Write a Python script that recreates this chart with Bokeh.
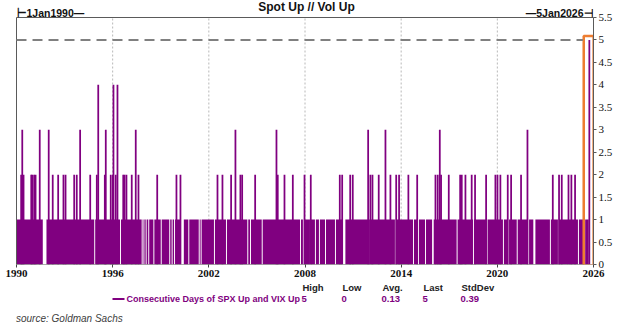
from bokeh.plotting import figure
from bokeh.layouts import column
from bokeh.models import Range1d, FixedTicker
from bokeh.embed import file_html
from bokeh.resources import INLINE
from bokeh.core.properties import value

# ---------------- data ----------------
x_start, x_end = 1990, 2026
y_start, y_end = 0, 5.5
x_ticks = [1990, 1996, 2002, 2008, 2014, 2020, 2026]
x_tick_labels = ["1990", "1996", "2002", "2008", "2014", "2020", "2026"]
y_ticks = [0, 0.5, 1, 1.5, 2, 2.5, 3, 3.5, 4, 4.5, 5, 5.5]
y_tick_labels = ["0", "0.5", "1", "1.5", "2", "2.5", "3", "3.5", "4", "4.5", "5", "5.5"]

# level-1 run ends here; days with value 0 inside the run are listed as gaps
base_end = 2025.70
gap_centers = [1991.755, 1994.88, 1996.49, 1997.84, 1997.95, 1998.09, 1998.25, 1998.57,
               1999.03, 1999.56, 1999.71, 1999.86, 1999.98, 2000.335, 2000.75, 2001.40,
               2001.52, 2002.35, 2003.10, 2004.43, 2004.60, 2005.33, 2007.72, 2007.90,
               2008.34, 2008.65, 2008.90, 2009.28, 2009.90, 2010.42, 2012.08, 2013.64,
               2014.77, 2015.08, 2015.52, 2015.98, 2017.49, 2018.51, 2019.36, 2020.38,
               2020.70, 2021.24, 2021.95, 2022.31, 2023.31, 2023.81, 2024.44, 2025.06,
               2025.45]
gap_widths = [0.23, 0.06, 0.06, 0.06, 0.06, 0.06, 0.06, 0.06,
              0.06, 0.06, 0.06, 0.06, 0.06, 0.21, 0.06, 0.06,
              0.06, 0.06, 0.06, 0.06, 0.06, 0.06, 0.06, 0.06,
              0.06, 0.06, 0.06, 0.06, 0.06, 0.20, 0.06, 0.06,
              0.06, 0.06, 0.06, 0.10, 0.06, 0.06, 0.06, 0.06,
              0.06, 0.06, 0.06, 0.13, 0.06, 0.06, 0.06, 0.06,
              0.06]

spike_dates = [1990.29, 1990.36, 1990.44, 1990.92, 1990.98, 1991.10, 1991.19, 1991.45,
               1992.01, 1992.26, 1992.60, 1992.93, 1993.06, 1993.60, 1993.76, 1993.97,
               1994.60, 1995.01, 1995.10, 1995.51, 1995.57, 1995.88, 1996.01, 1996.05,
               1996.19, 1996.30, 1996.66, 1996.74, 1996.86, 1997.19, 1997.44, 1997.61,
               1998.78, 1999.98, 2000.23,
               2002.54, 2002.85, 2003.39, 2003.66, 2003.97, 2004.08, 2004.89, 2006.22,
               2006.30, 2006.72, 2007.24, 2007.97, 2008.36, 2010.17, 2010.32, 2010.82,
               2010.98, 2011.94, 2012.08, 2012.21, 2012.60, 2013.02,
               2013.33, 2013.69, 2013.87, 2014.45, 2015.00, 2016.14, 2016.28, 2016.41,
               2016.49, 2016.97, 2017.68, 2017.78, 2018.01, 2018.40, 2018.61, 2019.30,
               2019.88, 2020.01, 2020.19, 2020.65, 2020.86, 2021.48, 2021.88, 2023.46,
               2023.85, 2024.02, 2024.44, 2024.62, 2024.85, 2025.74]
spike_values = [2, 3, 2, 2, 2, 2, 2, 3,
                3, 2, 2, 2, 2, 2, 2, 3,
                2, 2, 4, 2, 3, 2, 2, 4,
                2, 4, 2, 2, 2, 2, 3, 2,
                2, 2, 2,
                2, 2, 2, 3, 2, 2, 2, 3,
                2, 2, 2, 2, 2, 2, 2, 2,
                2, 3, 2, 2, 2, 3,
                2, 2, 2, 2, 2, 2, 2, 3,
                2, 2, 2, 2, 2, 2, 2, 2,
                2, 2, 2, 2, 2, 2, 3, 2,
                2, 2, 2, 2, 2, 5]

threshold = 5
stat_names = ["High", "Low", "Avg.", "Last", "StdDev"]
stat_values = ["5", "0", "0.13", "5", "0.39"]
series_name = "Consecutive Days of SPX Up and VIX Up"
title_text = "Spot Up // Vol Up"
left_date = "1Jan1990"
right_date = "5Jan2026"
source_text = "source: Goldman Sachs"

# ---------------- layout / style ----------------
PURPLE = "#800080"
ORANGE = "#ED7D31"
AXIS = "#5a5a5a"
FONT = "Liberation Sans Narrow"
GFONT = value("'Liberation Sans Narrow', 'Liberation Sans', sans-serif")
W = 624
FRAME_L, FRAME_R = 16, 593          # pixel columns of 1990 and 2026
FRAME_TOP_PX, Y0_PX = 17, 264       # pixel rows of y_end and 0
MAIN_H = 282
px_per_year = (FRAME_R - FRAME_L) / (x_end - x_start)
px_per_unit = (Y0_PX - FRAME_TOP_PX) / (y_end - y_start)


def dx(px):
    return x_start + (px - FRAME_L) / px_per_year


def dy(py):
    return (Y0_PX - py) / px_per_unit


p = figure(width=W, height=MAIN_H, output_backend="svg", toolbar_location=None,
           x_range=Range1d(dx(FRAME_L - 1), x_end), y_range=Range1d(y_start, dy(0)),
           y_axis_location="right",
           min_border_left=FRAME_L - 1, min_border_right=W - FRAME_R,
           min_border_top=0, min_border_bottom=MAIN_H - Y0_PX)
p.background_fill_color = "white"
p.border_fill_color = "white"
p.outline_line_color = None
p.xgrid.visible = False
p.ygrid.visible = False

xa = p.xaxis[0]
xa.ticker = FixedTicker(ticks=x_ticks)
xa.major_label_overrides = {float(t): s for t, s in zip(x_ticks, x_tick_labels)}
xa.axis_line_color = None
xa.major_tick_in = 0
xa.major_tick_out = 3
xa.major_tick_line_color = "#444444"
xa.minor_tick_line_color = None
xa.major_label_text_font = FONT
xa.major_label_text_font_style = "bold"
xa.major_label_text_font_size = "11px"
xa.major_label_text_color = "#111111"
xa.major_label_standoff = 2

ya = p.yaxis[0]
ya.bounds = (y_start, y_end)
ya.ticker = FixedTicker(ticks=y_ticks)
ya.major_label_overrides = {float(t): s for t, s in zip(y_ticks, y_tick_labels)}
ya.axis_line_color = AXIS
ya.major_tick_in = 0
ya.major_tick_out = 3
ya.major_tick_line_color = AXIS
ya.minor_tick_line_color = None
ya.major_label_text_font = FONT
ya.major_label_text_font_size = "11px"
ya.major_label_text_color = "#111111"
ya.major_label_standoff = 2

# vertical dotted grid at the inner x ticks
inner = x_ticks[1:-1]
p.segment(x0=inner, x1=inner, y0=[y_start] * len(inner), y1=[y_end] * len(inner),
          line_color="#b8b8b8", line_width=1, line_dash="2 2")

# base run at level 1, split by the zero days
seg_left = [x_start] + [c + w / 2 for c, w in zip(gap_centers, gap_widths)]
seg_right = [c - w / 2 for c, w in zip(gap_centers, gap_widths)] + [base_end]
p.quad(left=seg_left, right=seg_right, bottom=0, top=1,
       fill_color=PURPLE, line_color=None)

# spikes
p.vbar(x=spike_dates, width=0.11, bottom=0, top=spike_values,
       fill_color=PURPLE, line_color=None)

# plot box (left, top)
p.quad(left=[x_start], right=[x_end], bottom=[y_start], top=[y_end],
       fill_color=None, line_color=AXIS, line_width=1)

# highlight box around last value
last_date = spike_dates[-1]
last_val = spike_values[-1]
box_left = last_date - 0.35
p.quad(left=[box_left], right=[last_date + 0.27], bottom=[-0.03], top=[last_val + 0.09],
       fill_color=None, line_color=ORANGE, line_width=2.5)

# threshold line
p.line(x=[x_start, box_left - 0.05], y=[threshold, threshold],
       line_color="#808080", line_width=2, line_dash="10 6")

# top texts
p.text(x=[dx(306)], y=[dy(6.5)], text=[title_text],
       text_font=GFONT, text_font_style="bold", text_font_size="12px",
       text_color="#111111", text_align="center", text_baseline="middle")
p.text(x=[x_start], y=[dy(12)], text=["\u22a2" + left_date + "\u2014"],
       text_font=GFONT, text_font_style="bold", text_font_size="10.5px",
       text_color="#111111", text_align="left", text_baseline="middle")
p.text(x=[x_end], y=[dy(12)], text=["\u2014" + right_date + "\u22a3"],
       text_font=GFONT, text_font_style="bold", text_font_size="10.5px",
       text_color="#111111", text_align="right", text_baseline="middle")

# ---------------- bottom strip: stats legend + source (canvas-pixel coords) ----------------
BOT_H = 334 - MAIN_H
q = figure(width=W, height=BOT_H, output_backend="svg", toolbar_location=None,
           x_range=Range1d(FRAME_L - 1, FRAME_R), y_range=Range1d(MAIN_H + BOT_H, MAIN_H),
           x_axis_location=None, y_axis_location=None,
           min_border_left=FRAME_L - 1, min_border_right=W - FRAME_R,
           min_border_top=0, min_border_bottom=0)
q.outline_line_color = None
q.xgrid.visible = False
q.ygrid.visible = False
q.background_fill_color = "white"
q.border_fill_color = "white"

stat_x = [302, 342, 382, 423, 461]
q.text(x=stat_x, y=[287] * len(stat_x), text=stat_names,
       text_font=GFONT, text_font_style="bold", text_font_size="9.5px",
       text_color="#222222", text_align="left", text_baseline="middle")
q.text(x=[s - 1 for s in stat_x], y=[298.5] * len(stat_x), text=stat_values,
       text_font=GFONT, text_font_style="bold", text_font_size="9.5px",
       text_color=PURPLE, text_align="left", text_baseline="middle")
q.line(x=[112, 124], y=[298.5, 298.5], line_color=PURPLE, line_width=2)
q.text(x=[126], y=[298.5], text=[series_name],
       text_font=GFONT, text_font_style="bold", text_font_size="9px",
       text_color=PURPLE, text_align="left", text_baseline="middle")
q.text(x=[15.5], y=[318], text=[source_text],
       text_font=value("'Liberation Sans', sans-serif"), text_font_style="italic",
       text_font_size="10px", text_color="#404040", text_align="left", text_baseline="middle")

layout = column(p, q, spacing=0)
open("out.html", "w").write(file_html(layout, INLINE))
